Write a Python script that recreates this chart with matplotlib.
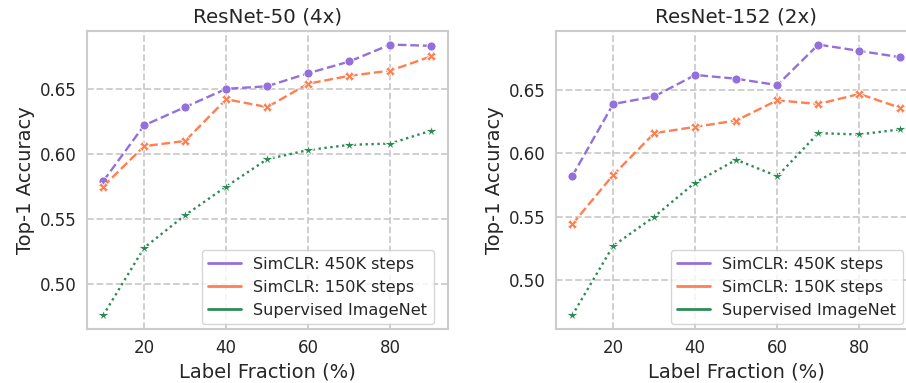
import matplotlib
matplotlib.use("Agg")
import matplotlib.pyplot as plt
from matplotlib.lines import Line2D
import seaborn as sns

# label fractions (%)
fractions = [10, 20, 30, 40, 50, 60, 70, 80, 90]

# ResNet-50 (4x)
r50_450k = [0.579, 0.622, 0.636, 0.650, 0.652, 0.662, 0.671, 0.684, 0.683]
r50_150k = [0.575, 0.606, 0.610, 0.642, 0.636, 0.654, 0.660, 0.664, 0.675]
r50_sup = [0.476, 0.528, 0.553, 0.575, 0.596, 0.603, 0.607, 0.608, 0.618]

# ResNet-152 (2x)
r152_450k = [0.582, 0.639, 0.645, 0.662, 0.659, 0.654, 0.686, 0.681, 0.676]
r152_150k = [0.544, 0.583, 0.616, 0.621, 0.626, 0.642, 0.639, 0.647, 0.636]
r152_sup = [0.472, 0.527, 0.550, 0.577, 0.595, 0.582, 0.616, 0.615, 0.619]

titles = ["ResNet-50 (4x)", "ResNet-152 (2x)"]
series_names = ["SimCLR: 450K steps", "SimCLR: 150K steps", "Supervised ImageNet"]
xticks = [20, 40, 60, 80]
yticks = [0.50, 0.55, 0.60, 0.65]

colors = ["mediumpurple", "coral", "seagreen"]
markers = ["o", "X", "*"]
dashes = [(3.7, 1.6), (3.7, 1.6), (1, 1.5)]
msizes = [6.5, 6.5, 9]

sns.set_style("whitegrid", {"grid.linestyle": "--", "axes.edgecolor": "#cccccc"})
plt.rcParams['font.family'] = ['DejaVu Sans']

fig = plt.figure(figsize=(9.06, 3.83), dpi=100)
ax_left = fig.add_axes([0.0957, 0.141, 0.3985, 0.778])
ax_right = fig.add_axes([0.6134, 0.141, 0.3985, 0.778])

panels = [(ax_left, [r50_450k, r50_150k, r50_sup]),
          (ax_right, [r152_450k, r152_150k, r152_sup])]

for i, (ax, data) in enumerate(panels):
    for vals, c, m, d, ms in zip(data, colors, markers, dashes, msizes):
        ax.plot(fractions, vals, color=c, marker=m, markersize=ms,
                markeredgecolor="white", markeredgewidth=0.6,
                linestyle=(0, d), linewidth=1.7)
    ax.set_title(titles[i], fontsize=14.3, color="#262626")
    ax.set_xlabel("Label Fraction (%)", fontsize=14, color="#262626")
    ax.set_ylabel("Top-1 Accuracy", fontsize=14, color="#262626")
    ax.set_xticks(xticks)
    ax.set_yticks(yticks)
    ax.tick_params(labelsize=12, colors="#262626")
    ax.grid(True, linestyle="--", color="#cccccc", linewidth=1.3)
    for s in ax.spines.values():
        s.set_color("#cccccc")
        s.set_linewidth(1.5)
    handles = [Line2D([0], [0], color=c, linewidth=2) for c in colors]
    ax.legend(handles, series_names, loc="lower right", fontsize=11.6,
              bbox_to_anchor=(0.975, 0.0), borderaxespad=0.3,
              frameon=True, edgecolor="#cccccc")

fig.savefig("out.png", dpi=100)
